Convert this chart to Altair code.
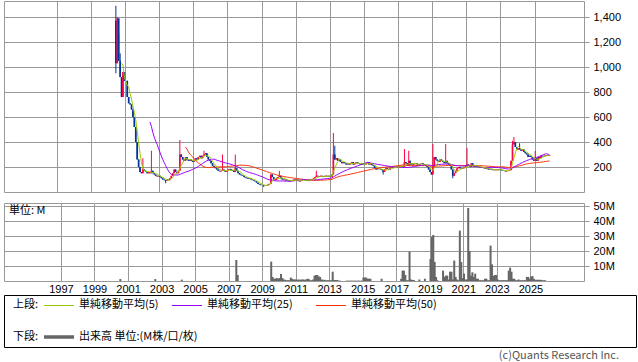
import altair as alt
import pandas as pd

# ---- monthly closes (yen); 2000 starts in June, 2025 ends in November ----
close_by_year = {
    2000: [1030, 1390, 1050, 920, 760, 960, 890],
    2001: [890, 760, 710, 700, 660, 600, 520, 400, 260, 200, 160, 150],
    2002: [180, 170, 160, 150, 160, 150, 170, 150, 140, 130, 125, 130],
    2003: [120, 110, 100, 95, 90, 100, 95, 110, 130, 150, 180, 160],
    2004: [150, 170, 300, 280, 260, 250, 280, 260, 250, 260, 250, 240],
    2005: [250, 270, 260, 280, 290, 270, 290, 300, 310, 280, 260, 250],
    2006: [230, 210, 200, 190, 180, 170, 165, 170, 180, 170, 160, 170],
    2007: [180, 185, 175, 170, 160, 190, 170, 150, 140, 135, 130, 120],
    2008: [115, 110, 105, 110, 100, 95, 90, 85, 75, 65, 60, 55],
    2009: [55, 50, 50, 55, 60, 65, 140, 120, 100, 95, 110, 120],
    2010: [130, 110, 100, 95, 100, 90, 95, 85, 90, 95, 100, 90],
    2011: [100, 95, 85, 90, 95, 100, 95, 90, 100, 95, 100, 105],
    2012: [110, 120, 130, 125, 120, 130, 125, 120, 130, 125, 130, 125],
    2013: [120, 140, 300, 260, 270, 250, 260, 240, 230, 240, 230, 220],
    2014: [230, 220, 230, 240, 220, 230, 240, 230, 225, 220, 230, 220],
    2015: [220, 230, 240, 220, 230, 215, 210, 190, 180, 190, 185, 180],
    2016: [175, 160, 180, 190, 185, 180, 195, 200, 195, 200, 205, 200],
    2017: [205, 200, 210, 200, 240, 230, 210, 250, 220, 230, 220, 225],
    2018: [230, 220, 215, 225, 230, 220, 215, 210, 200, 180, 160, 140],
    2019: [200, 280, 260, 250, 240, 260, 250, 240, 230, 250, 230, 220],
    2020: [210, 180, 130, 150, 170, 190, 200, 190, 185, 190, 200, 210],
    2021: [220, 210, 200, 230, 210, 200, 210, 205, 200, 195, 200, 195],
    2022: [190, 185, 190, 180, 185, 180, 175, 180, 175, 180, 175, 180],
    2023: [175, 170, 170, 165, 170, 170, 175, 250, 380, 400, 360, 340],
    2024: [350, 340, 330, 340, 320, 310, 300, 280, 290, 280, 260, 250],
    2025: [270, 250, 280, 270, 290, 285, 290, 295, 290, 295, 290],
}
first_open = 1370

# ---- monthly volume (millions of shares) ----
vol_by_year = {
    2000: [0, 1.3, 0, 0, 0, 0, 0],
    2001: [0] * 12,
    2002: [0, 0, 0, 0, 0, 0, 0, 1.3, 0, 0, 0, 0],
    2003: [0] * 12,
    2004: [0, 0, 0.9, 0, 0, 0, 0, 0, 0, 0, 0, 0],
    2005: [0] * 12,
    2006: [0] * 12,
    2007: [0, 0, 0, 0, 0, 14, 4, 0, 0, 0, 0, 0],
    2008: [0] * 12,
    2009: [0, 0, 0, 0, 0, 0, 12.9, 2.7, 1.5, 1.5, 2, 1.5],
    2010: [2, 4.7, 2, 1, 0.8, 0.5, 0.5, 0.5, 2.3, 1.5, 1, 1],
    2011: [1, 0.8, 1, 0.8, 1, 1, 0.8, 1, 1.5, 1.2, 0.5, 0.5],
    2012: [1, 3.5, 4, 4, 3, 2.7, 1, 0.8, 0.8, 0.5, 0.5, 0.5],
    2013: [0.5, 0.5, 6.2, 0.7, 0.7, 0.7, 0.3, 0.3, 0, 0, 0, 0],
    2014: [0.2, 0.2, 0.2, 0.2, 0.2, 0.2, 0.2, 0.2, 0.2, 0.2, 0.2, 0.2],
    2015: [2.3, 2.3, 2.3, 1.5, 1.5, 1.5, 0, 0, 0, 0, 0, 0],
    2016: [0, 1.5, 0, 0, 0, 0, 0, 0, 0, 0, 0, 0],
    2017: [0, 0, 0, 1.5, 6.9, 6.9, 4, 0.5, 0.5, 19.6, 1, 0.7],
    2018: [0.7, 0, 0, 0, 1, 0, 0, 0, 1.5, 0, 0, 0],
    2019: [14.7, 29.3, 30.7, 12.7, 2.7, 0.5, 0, 0, 0, 6.9, 2.7, 3.6],
    2020: [3.6, 1, 6.2, 6.2, 1, 13.6, 2.7, 1, 0.5, 33.6, 12.7, 2],
    2021: [4.9, 1, 1, 48.7, 20, 3.6, 5.8, 2.7, 4.9, 1.5, 1.5, 0.5],
    2022: [0.5, 0.5, 0.5, 1.5, 1.5, 0.5, 0.5, 23.6, 11.1, 3.3, 4, 4],
    2023: [1, 0.5, 0.5, 0.5, 0.5, 0.5, 0.5, 0.5, 6.9, 8.9, 6.2, 1.5],
    2024: [1.5, 0.5, 0.5, 1, 0.5, 0.5, 0.5, 0.5, 0.5, 2.7, 2.7, 1.5],
    2025: [2.9, 3.3, 1.5, 0.8, 0.8, 0.8, 0.8, 0.8, 0.5, 0.5, 0.5],
}

# ---- wick extremes (year, month, value) ----
high_marks = [
    (2000, 6, 1490), (2000, 7, 1400), (2000, 8, 1270), (2000, 9, 1110),
    (2002, 1, 270), (2002, 7, 330), (2004, 3, 416), (2005, 8, 330),
    (2006, 9, 300), (2007, 6, 300), (2010, 1, 170), (2012, 3, 170),
    (2013, 3, 472), (2013, 4, 370), (2017, 5, 344), (2017, 8, 330),
    (2019, 1, 384), (2019, 10, 384), (2021, 1, 352), (2023, 9, 410),
    (2023, 10, 440), (2024, 2, 390), (2025, 1, 328),
]
low_marks = [
    (2000, 6, 950), (2003, 5, 70), (2009, 2, 40), (2016, 2, 140),
    (2020, 3, 110),
]

years = [1997, 1999, 2001, 2003, 2005, 2007, 2009, 2011, 2013, 2015,
         2017, 2019, 2021, 2023, 2025]
price_ticks = [200, 400, 600, 800, 1000, 1200, 1400]
vol_ticks = [10, 20, 30, 40, 50]

UP = "#ff0040"
DOWN = "#003399"
MA5C = "#99cc00"
MA25C = "#9900ff"
MA50C = "#ff3300"
GRID = "#999999"
FONT = "Noto Sans CJK JP"

rows = []
for yr in sorted(close_by_year):
    start = 6 if yr == 2000 else 1
    for i, c in enumerate(close_by_year[yr]):
        m = start + i
        rows.append({"yr": yr, "m": m, "t": yr + (m - 0.5) / 12.0,
                     "close": c, "vol": vol_by_year[yr][i]})
df = pd.DataFrame(rows)
df["open"] = df["close"].shift(1)
df.loc[0, "open"] = first_open
df["high"] = df[["open", "close"]].max(axis=1)
df["low"] = df[["open", "close"]].min(axis=1)
for (y, m, v) in high_marks:
    df.loc[(df.yr == y) & (df.m == m), "high"] = v
for (y, m, v) in low_marks:
    df.loc[(df.yr == y) & (df.m == m), "low"] = v
df["dir"] = ["up" if c >= o else "down" for o, c in zip(df.open, df.close)]
df["ma5"] = df["close"].rolling(5).mean()
df["ma25"] = df["close"].rolling(25).mean()
df["ma50"] = df["close"].rolling(50).mean()

xscale = alt.Scale(domain=[1993.9, 2027.9], nice=False, zero=False)
col = alt.Color("dir:N", scale=alt.Scale(domain=["up", "down"], range=[UP, DOWN]), legend=None)

top_x_axis = alt.Axis(values=years, tickCount=40, grid=True, gridColor=GRID,
                      labels=False, ticks=False, domain=False, title=None)
price_scale = alt.Scale(domain=[0, 1528], nice=False, zero=True)
price_axis = alt.Axis(orient="right", values=price_ticks, tickCount=20, format=",d",
                      grid=True, gridColor=GRID, tickColor=GRID, tickSize=5,
                      domain=False, labelFontSize=11, labelColor="#000000",
                      labelPadding=4, labelOverlap=False, title=None)

base = alt.Chart(df)
wick = base.mark_rule(strokeWidth=1).encode(
    x=alt.X("t:Q", scale=xscale, axis=top_x_axis),
    y=alt.Y("low:Q", scale=price_scale, axis=price_axis),
    y2="high:Q", color=col)
body = base.mark_rule(strokeWidth=1.7).encode(
    x="t:Q", y="open:Q", y2="close:Q", color=col)
ma50 = base.mark_line(color=MA50C, strokeWidth=1).encode(x="t:Q", y="ma50:Q")
ma25 = base.mark_line(color=MA25C, strokeWidth=1).encode(x="t:Q", y="ma25:Q")
ma5 = base.mark_line(color=MA5C, strokeWidth=1).encode(x="t:Q", y="ma5:Q")

top = alt.layer(wick, body, ma50, ma25, ma5).properties(
    width=580, height=191,
    view=alt.ViewBackground(stroke=GRID, strokeWidth=1))

vol_x_axis = alt.Axis(values=years, tickCount=40, grid=True, gridColor=GRID,
                      labels=True, ticks=False, domain=False, title=None,
                      format="d", labelFontSize=11, labelColor="#000000",
                      labelPadding=2, labelOverlap=False)
vol_axis = alt.Axis(orient="right", values=vol_ticks, tickCount=20,
                    labelExpr="datum.value + 'M'",
                    grid=True, gridColor=GRID, tickColor=GRID, tickSize=5,
                    domain=False, labelFontSize=11, labelColor="#000000",
                    labelPadding=4, labelOverlap=False, title=None)
vbars = base.mark_bar(color="#666666", size=2).encode(
    x=alt.X("t:Q", scale=xscale, axis=vol_x_axis),
    y=alt.Y("vol:Q", scale=alt.Scale(domain=[0, 52], nice=False), axis=vol_axis))
unit_df = pd.DataFrame({"s": ["単位: M"]})
unit_txt = alt.Chart(unit_df).mark_text(
    align="left", baseline="middle", font=FONT, fontSize=11, color="#000000"
).encode(text="s:N", x=alt.value(5), y=alt.value(8))
vol = alt.layer(vbars, unit_txt).properties(
    width=580, height=78,
    view=alt.ViewBackground(stroke=GRID, strokeWidth=1))

# ---- legend panel ----
one = pd.DataFrame({"k": [0]})


def txt(s, x, y, align="left", color="#000000", size=11):
    return alt.Chart(pd.DataFrame({"s": [s]})).mark_text(
        align=align, baseline="middle", font=FONT, fontSize=size, color=color
    ).encode(text="s:N", x=alt.value(x), y=alt.value(y))


def seg(x1, x2, y, color, w):
    return alt.Chart(one).mark_rule(color=color, strokeWidth=w).encode(
        x=alt.value(x1), x2=alt.value(x2), y=alt.value(y))


box = alt.Chart(one).mark_rect(fillOpacity=0, stroke="#000000", strokeWidth=1).encode(
    x=alt.value(0.5), x2=alt.value(632.5), y=alt.value(3.5), y2=alt.value(55.5))

legend = alt.layer(
    box,
    txt("上段:", 9, 13),
    seg(40, 70, 13.5, MA5C, 1), txt("単純移動平均(5)", 75, 13),
    seg(168, 198, 13.5, MA25C, 1), txt("単純移動平均(25)", 203, 13),
    seg(312, 342, 13.5, MA50C, 1), txt("単純移動平均(50)", 347, 13),
    txt("下段:", 9, 45),
    seg(40, 70, 45, "#666666", 3.5), txt("出来高 単位:(M株/口/枚)", 75, 45),
    txt("(c)Quants Research Inc.", 615, 64, align="right", color="#555555"),
).properties(width=632, height=70,
             view=alt.ViewBackground(stroke="transparent"))

chart = alt.vconcat(top, vol, legend, spacing=11, bounds="flush").properties(
    padding={"left": 3, "top": 0, "right": 0, "bottom": 0}
).configure_axis(labelFont=FONT).configure(background="white")

chart.save("out.html", embed_options={"renderer": "svg", "actions": False})
